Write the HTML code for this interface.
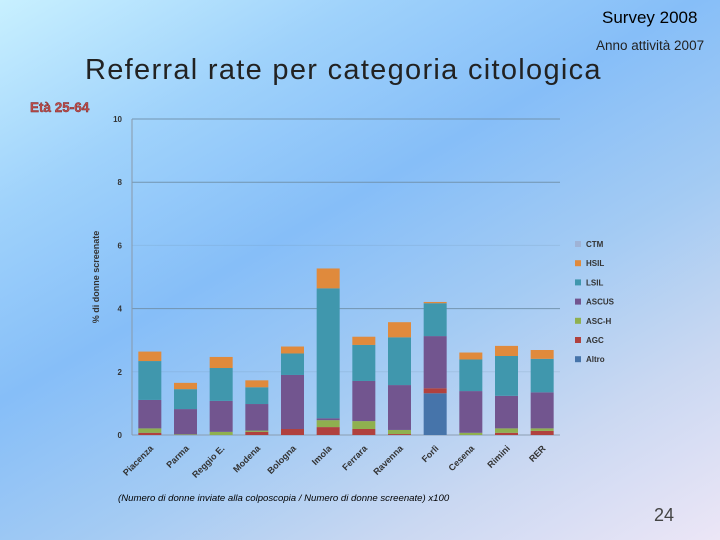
<!DOCTYPE html>
<html><head><meta charset="utf-8"><style>
body{margin:0}
#slide{position:relative;width:720px;height:540px;overflow:hidden;font-family:"Liberation Sans",sans-serif;
background:linear-gradient(150deg,#c8f0ff 0%,#9fd2fb 22%,#86bef8 42%,#a4cbf3 62%,#cad8f2 80%,#ece6f6 100%);}
.t{position:absolute;white-space:nowrap}
</style></head><body>
<div id="slide">
<div class="t" style="left:602px;top:8px;font-size:17px;color:#000">Survey 2008</div>
<div class="t" style="left:596px;top:38px;font-size:13.5px;color:#222">Anno attività 2007</div>
<div class="t" style="left:85px;top:54px;font-size:29px;letter-spacing:1.3px;color:#222">Referral rate per categoria citologica</div>
<div class="t" style="left:30px;top:100px;font-size:13.5px;font-weight:bold;color:#c0504d;-webkit-text-stroke:0.4px #7a2020">Età 25-64</div>
<div class="t" style="left:118px;top:493px;font-size:9.6px;font-style:italic;color:#000">(Numero di donne inviate alla colposcopia / Numero di donne screenate) x100</div>
<div class="t" style="left:654px;top:505px;font-size:18px;color:#444">24</div>
<svg id="chart" width="720" height="540" style="position:absolute;left:0;top:0"></svg>
</div>
<script>
const categories=["Piacenza","Parma","Reggio E.","Modena","Bologna","Imola","Ferrara","Ravenna","Forlì","Cesena","Rimini","RER"];
const seriesNames=["Altro","AGC","ASC-H","ASCUS","LSIL","HSIL","CTM"];
const altro=[0,0,0,0,0,0,0,0,1.32,0,0,0];
const agc=[0.07,0,0,0.1,0.19,0.25,0.19,0.03,0.16,0,0.07,0.13];
const asch=[0.14,0.02,0.1,0.04,0,0.22,0.25,0.13,0,0.07,0.14,0.08];
const ascus=[0.9,0.8,0.98,0.84,1.71,0.06,1.27,1.42,1.65,1.32,1.03,1.14];
const lsil=[1.23,0.63,1.04,0.53,0.68,4.11,1.14,1.51,1.04,1.0,1.26,1.06];
const hsil=[0.3,0.2,0.35,0.22,0.22,0.63,0.26,0.48,0.04,0.22,0.32,0.28];
const ctm=[0,0,0,0,0,0,0,0,0,0,0,0];
const yTicks=[0,2,4,6,8,10];
const series=[altro,agc,asch,ascus,lsil,hsil,ctm];
const colors=["#4674aa","#b0413e","#8fb04f","#72558f","#4097ad","#e08a3c","#9fb3d6"];
const svg=document.getElementById('chart');
const NS="http://www.w3.org/2000/svg";
const x0=132,x1=560,y0=435,yTop=119;
const y=v=>y0-(v/10)*(y0-yTop);
const step=(x1-x0)/categories.length;
const xc=i=>x0+step*(i+0.5);
function mk(tag,attrs){const e=document.createElementNS(NS,tag);for(const k in attrs)e.setAttribute(k,attrs[k]);svg.appendChild(e);return e;}
yTicks.forEach(t=>{
 const l=mk('line',{x1:x0,x2:x1,y1:y(t),y2:y(t),stroke:(t===0?'#8899aa':'#6f8fa8'),'stroke-width':1,opacity:(t%4===0||t===10)?0.9:0.2});
 
 
 const tx=mk('text',{x:x0-10,y:y(t)+3,'font-size':8,'font-weight':'bold','text-anchor':'end',fill:'#333','font-family':'Liberation Sans,sans-serif'});
 tx.textContent=t;
 
 
});
const ax=mk('line',{x1:x0,x2:x0,y1:yTop,y2:y0,stroke:'#8899aa'});


const yt=mk('text',{x:0,y:0,'font-size':9,'font-weight':'bold',fill:'#333','text-anchor':'middle',transform:'translate(99,277) rotate(-90)','font-family':'Liberation Sans,sans-serif'});
yt.textContent='% di donne screenate';


categories.forEach((c,i)=>{
 let acc=0;const bw=23;
 series.forEach((s,k)=>{
  const v=s[i];if(v<=0)return;
  const r=mk('rect',{x:xc(i)-bw/2,y:y(acc+v),width:bw,height:y(acc)-y(acc+v),fill:colors[k]});
  
  
  acc+=v;
 });
 const tx=mk('text',{x:0,y:0,'font-size':9,'font-weight':'bold',fill:'#333','text-anchor':'end',transform:`translate(${xc(i)+4},${y0+14}) rotate(-45)`,'font-family':'Liberation Sans,sans-serif'});
 tx.textContent=c;
 
 
});
const legOrder=[6,5,4,3,2,1,0];
legOrder.forEach((k,j)=>{
 const ly=244+j*19.2;
 const r=mk('rect',{x:575,y:ly-3,width:6,height:6,fill:colors[k]});
 
 
 const t=mk('text',{x:586,y:ly+3,'font-size':8,'font-weight':'bold',fill:'#333','font-family':'Liberation Sans,sans-serif'});
 t.textContent=seriesNames[k];
 
 
});
</script>
</body></html>
